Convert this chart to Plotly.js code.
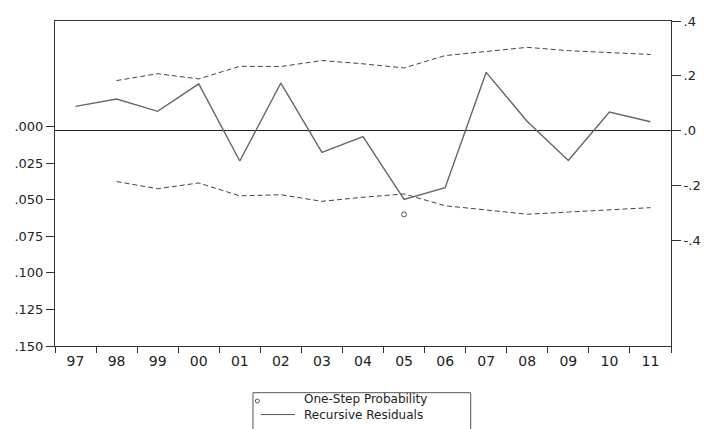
<!DOCTYPE html>
<html>
<head>
<meta charset="utf-8">
<script src="https://cdn.plot.ly/plotly-3.0.1.min.js"></script>
<style>html,body{margin:0;padding:0;background:#fff;}#chart{width:706px;height:429px;}</style>
</head>
<body>
<div id="chart"></div>
<script>
var years = ["97","98","99","00","01","02","03","04","05","06","07","08","09","10","11"];
var residuals = [0.089, 0.116, 0.071, 0.171, -0.110, 0.174, -0.079, -0.021, -0.250, -0.207, 0.213, 0.034, -0.108, 0.068, 0.033];
var upperBand = [null, 0.183, 0.208, 0.189, 0.235, 0.234, 0.256, 0.244, 0.229, 0.274, 0.290, 0.304, 0.292, 0.286, 0.278];
var lowerBand = [null, -0.185, -0.211, -0.190, -0.237, -0.233, -0.257, -0.242, -0.230, -0.273, -0.289, -0.304, -0.296, -0.289, -0.280];
var probability = [null, null, null, null, null, null, null, null, 0.060, null, null, null, null, null, null];
var probTickVals = [0, 0.025, 0.05, 0.075, 0.1, 0.125, 0.15];
var probTickText = [".000", ".025", ".050", ".075", ".100", ".125", ".150"];
var resTickVals = [0.4, 0.2, 0, -0.2, -0.4];
var resTickText = [".4", ".2", ".0", "-.2", "-.4"];
var legendLabels = ["One-Step Probability", "Recursive Residuals"];

var font = "DejaVu Sans, Liberation Sans, sans-serif";
var traces = [
  {x: years, y: upperBand, yaxis: "y2", mode: "lines", line: {color: "#444", width: 1, dash: "5px,3px"}, showlegend: false, hoverinfo: "skip"},
  {x: years, y: lowerBand, yaxis: "y2", mode: "lines", line: {color: "#444", width: 1, dash: "5px,3px"}, showlegend: false, hoverinfo: "skip"},
  {x: years, y: residuals, yaxis: "y2", mode: "lines", line: {color: "#666", width: 1.4}, name: legendLabels[1], showlegend: false},
  {x: years, y: probability, yaxis: "y", mode: "markers", marker: {symbol: "circle-open", size: 5, color: "#555", line: {width: 1}}, name: legendLabels[0], showlegend: false}
];

var layout = {
  width: 706, height: 429,
  margin: {l: 55, r: 35, t: 21, b: 83},
  paper_bgcolor: "#fff", plot_bgcolor: "#fff",
  font: {family: font, size: 13, color: "#222"},
  showlegend: false,
  xaxis: {
    type: "category", tickson: "boundaries", ticks: "outside", ticklen: 6, tickcolor: "#333",
    showline: true, linecolor: "#333", linewidth: 1, mirror: true, showgrid: false, zeroline: false,
    tickfont: {family: font, size: 14, color: "#222"}, range: [-0.5, 14.5], ticklabelstandoff: 2
  },
  yaxis: {
    range: [0.15, -0.0723], tickvals: probTickVals, ticktext: probTickText,
    ticks: "outside", ticklen: 8, tickcolor: "#333", showline: true, linecolor: "#333", linewidth: 1,
    showgrid: false, zeroline: false, tickfont: {family: font, size: 13, color: "#222"}
  },
  yaxis2: {
    overlaying: "y", side: "right", range: [-0.784, 0.4], tickvals: resTickVals, ticktext: resTickText,
    ticks: "outside", ticklen: 9, tickcolor: "#333", showline: true, linecolor: "#333", linewidth: 1,
    showgrid: false, zeroline: true, zerolinecolor: "#222", zerolinewidth: 1,
    tickfont: {family: font, size: 13, color: "#222"}
  },
  shapes: [
    {type: "rect", xref: "paper", yref: "paper", x0: 0.3214, x1: 0.6748, y0: -0.1437, y1: -0.30, line: {color: "#555", width: 1}, fillcolor: "rgba(0,0,0,0)"},
    {type: "circle", xref: "paper", yref: "paper", x0: 0.3253, x1: 0.3318, y0: -0.1630, y1: -0.1753, line: {color: "#555", width: 1}},
    {type: "line", xref: "paper", yref: "paper", x0: 0.334, x1: 0.3896, y0: -0.211, y1: -0.211, line: {color: "#555", width: 1}}
  ],
  annotations: [
    {text: legendLabels.join("<br>"), align: "left", xref: "paper", yref: "paper", x: 0.401, y: -0.1877, xanchor: "left", yanchor: "middle", showarrow: false, font: {family: font, size: 12, color: "#222"}}
  ]
};

Plotly.newPlot("chart", traces, layout, {displayModeBar: false, staticPlot: true});
</script>
</body>
</html>
